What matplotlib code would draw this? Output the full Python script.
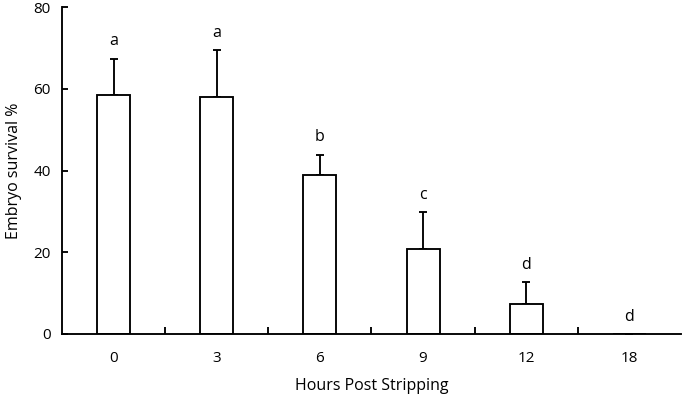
import matplotlib
matplotlib.use('Agg')
import matplotlib.pyplot as plt
import numpy as np

hours = ['0', '3', '6', '9', '12', '18']
survival = [58.5, 58.1, 38.8, 20.9, 7.4, 0.0]
sd = [8.9, 11.4, 5.1, 9.0, 5.2, 0.0]
letters = ['a', 'a', 'b', 'c', 'd', 'd']

plt.rcParams['font.family'] = ['Open Sans', 'DejaVu Sans']

fig = plt.figure(figsize=(6.85, 3.99), dpi=100)
ax = fig.add_axes([0.0905, 0.163, 0.9035, 0.819])

x = np.arange(len(hours))
lw = 1.35
ax.bar(x, survival, width=0.32, color='white', edgecolor='black', linewidth=lw, zorder=2)
ax.errorbar(x, survival, yerr=[np.zeros(len(sd)), sd], fmt='none', ecolor='black',
            elinewidth=lw, capsize=3.2, capthick=lw, zorder=1)

for xi, m, s, t in zip(x, survival, sd, letters):
    ax.text(xi, m + s + 4.2, t, ha='center', va='center', fontsize=11.5)

ax.set_xlim(-0.5, 5.5)
ax.set_ylim(0, 80)
ax.set_yticks([0, 20, 40, 60, 80])
ax.set_xticks(x)
ax.set_xticklabels(hours)
ax.set_xticks(np.arange(0.5, 5.0, 1.0), minor=True)
ax.tick_params(axis='x', which='major', length=0, pad=12, labelsize=11)
ax.tick_params(axis='x', which='minor', direction='in', length=5, width=lw)
ax.tick_params(axis='y', direction='in', length=4, width=lw, labelsize=11, pad=8)

for side in ['top', 'right']:
    ax.spines[side].set_visible(False)
for side in ['left', 'bottom']:
    ax.spines[side].set_linewidth(lw)

ax.set_xlabel('Hours Post Stripping', fontsize=11.5, labelpad=9)
ax.set_ylabel('Embryo survival %', fontsize=11.5, labelpad=8)

fig.savefig('out.png', dpi=100)
